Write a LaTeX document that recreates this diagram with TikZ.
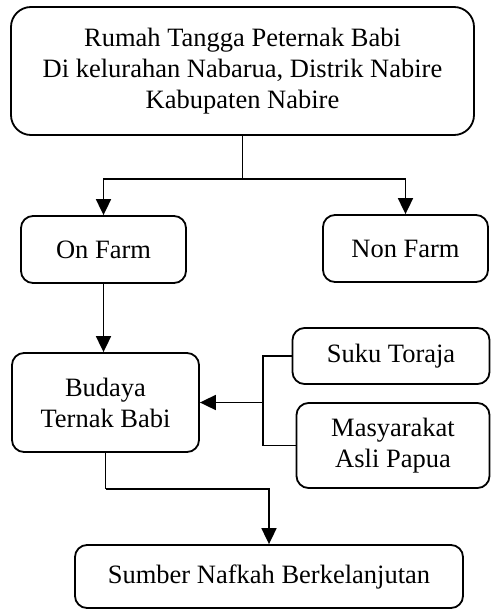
\documentclass[tikz,border=0pt]{standalone}
\usepackage{fontspec}
\setmainfont{Liberation Serif}
\usetikzlibrary{arrows.meta}

\begin{document}
\begin{tikzpicture}[x=1pt,y=-1pt,
	box/.style={draw,line width=1.8pt,rounded corners=12pt,align=center,
		inner sep=0pt,font=\fontsize{26.5}{31}\selectfont},
	link/.style={line width=1.8pt},
	arrowlink/.style={line width=1.8pt,-{Triangle[width=15pt,length=16pt]}}]
    
	\useasboundingbox (0,0) rectangle (491,610);
	\node[box,rounded corners=20pt,minimum width=463pt,minimum height=128pt] (rumah) at (242.5,71)
		{Rumah Tangga Peternak Babi\\Di kelurahan Nabarua, Distrik Nabire\\Kabupaten Nabire};
	\node[box,minimum width=165pt,minimum height=67pt] (onfarm) at (103.5,249.5) {On Farm};
	\node[box,minimum width=165pt,minimum height=67pt] (nonfarm) at (405.5,248.5) {Non Farm};
	\node[box,minimum width=187pt,minimum height=99pt] (budaya) at (105.5,402.5) {Budaya\\Ternak Babi};
	\node[box,minimum width=197pt,minimum height=56pt] (toraja) at (391,356) {Suku Toraja};
	\node[box,minimum width=193pt,minimum height=85pt] (papua) at (393,445.5) {Masyarakat\\Asli Papua};
	\node[box,minimum width=388pt,minimum height=63pt] (nafkah) at (269,576.5) {Sumber Nafkah Berkelanjutan};

	% cabang atas
	\draw[link] (rumah.south) -- ++(0,43) coordinate (fork);
	\draw[arrowlink] (fork) -| (onfarm.north);
	\draw[arrowlink] (fork) -| (nonfarm.north);
	\draw[arrowlink] (onfarm.south) -- (onfarm.south |- budaya.north);

	% suku dan masyarakat
	\draw[link] (toraja.west) -- ++(-29,0) coordinate (join) |- (papua.west);
	\draw[arrowlink] (join |- budaya.east) -- (budaya.east);

	% ke sumber nafkah
	\draw[link] (budaya.south) -- ++(0,36) coordinate (down);
	\draw[arrowlink] (down) -| (nafkah.north);

\end{tikzpicture}
\end{document}
